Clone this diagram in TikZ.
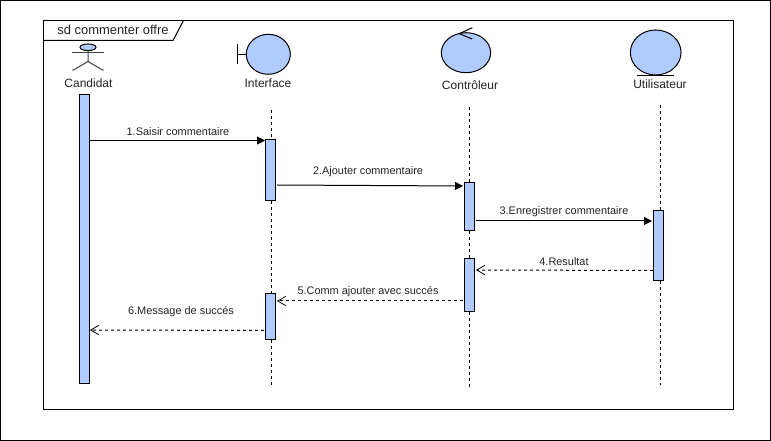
\documentclass[tikz,border=0pt]{standalone}
\usepackage{fontspec}
\setmainfont{Liberation Sans}
\usetikzlibrary{arrows.meta}
\usetikzlibrary{shapes.geometric}
\definecolor{myblue}{HTML}{B0CBFF}
\definecolor{mytext}{HTML}{222222}
\tikzset{
	rolebody/.style={ellipse,draw,fill=myblue,line width=0.75pt,inner sep=0pt},
	rolename/.style={inner sep=0pt,text=mytext,font=\fontsize{9}{10}\selectfont},
	msgtext/.style={inner sep=0pt,text=mytext,font=\fontsize{8.2}{9}\selectfont},
	activation/.style={rectangle,draw,fill=myblue,line width=0.75pt,inner sep=0pt,minimum width=7.5pt},
	lifeline/.style={line width=0.75pt,dash pattern=on 2.25pt off 2.25pt},
	callmsg/.style={line width=0.75pt,-{Triangle[length=6pt,width=6pt]}},
	replymsg/.style={line width=0.75pt,dash pattern=on 2.25pt off 2.25pt,-{Straight Barb[length=6pt,width=7pt,line width=0.6pt]}}
}

\begin{document}
\begin{tikzpicture}[x=0.75pt,y=-0.75pt]
	\useasboundingbox (0,0) rectangle (771,441);
	\draw [line width=0.75pt] (0.7,0.7) rectangle (770.3,440.3);
	% frame
	\draw [line width=0.75pt] (43.5,20.5) rectangle (733,410);
	\draw [line width=0.75pt] (43.5,40.5) -- (173,40.5) -- (183.5,20.5);
	\node [inner sep=0pt,text=mytext,font=\fontsize{9.7}{11}\selectfont] (frametitle) at (113,30) {sd commenter offre};

	% candidat
	\node [rolebody,minimum width=12pt,minimum height=5pt] (candidathead) at (88,47.3) {};
	\coordinate (candidatneck) at (88,50.7);
	\coordinate (candidathip) at (88,61.5);
	\coordinate (candidatarml) at (72,52.5);
	\coordinate (candidatarmr) at (104,52.5);
	\coordinate (candidatlegl) at (72.5,70.5);
	\coordinate (candidatlegr) at (103.5,70.5);
	\draw [line width=0.75pt,draw=black!75] (candidatneck) -- (candidathip) -- (candidatlegl);
	\draw [line width=0.75pt,draw=black!75] (candidathip) -- (candidatlegr);
	\draw [line width=0.75pt,draw=black!75] (candidatarml) -- (candidatarmr);
	\node [rolename] (candidatname) at (88.5,83.5) {Candidat};

	% interface
	\node [rolebody,minimum width=33pt,minimum height=30pt] (interfacebody) at (268.3,54.3) {};
	\coordinate (interfacebar) at (237.5,54.3);
	\coordinate (interfacebart) at (237.5,44);
	\coordinate (interfacebarb) at (237.5,64);
	\draw [line width=0.75pt] (interfacebart) -- (interfacebarb);
	\draw [line width=0.75pt] (interfacebar) -- (interfacebody.west);
	\node [rolename] (interfacename) at (268,83.5) {Interface};

	% controleur
	\node [rolebody,minimum width=37pt,minimum height=30pt] (controleurbody) at (466,52.7) {};
	\coordinate (controleurtip) at (459.3,33.7);
	\coordinate (controleurtipa) at (472.3,27.7);
	\coordinate (controleurtipb) at (472.3,39);
	\draw [line width=0.75pt] (controleurtipa) -- (controleurtip) -- (controleurtipb);
	\node [rolename] (controleurname) at (470,84.7) {Contrôleur};

	% utilisateur
	\node [rolebody,minimum width=38pt,minimum height=33.75pt] (utilisateurbody) at (655.7,52.5) {};
	\coordinate (utilisateurbasel) at (636.7,75.3);
	\coordinate (utilisateurbaser) at (674.3,75.3);
	\draw [line width=0.75pt] (utilisateurbasel) -- (utilisateurbaser);
	\node [rolename] (utilisateurname) at (660,84) {Utilisateur};

	% activations
	\node [activation,minimum height=217pt] (candidatbar) at (84.5,239.3) {};
	\node [activation,minimum height=46pt] (interfaceone) at (270.5,170.2) {};
	\node [activation,minimum height=34.5pt] (interfacetwo) at (270.5,316.5) {};
	\node [activation,minimum height=36pt] (controleurone) at (469.8,206.5) {};
	\node [activation,minimum height=39.5pt] (controleurtwo) at (469.8,284.8) {};
	\node [activation,minimum height=52.5pt] (utilisateurone) at (658.5,245.3) {};

	% lifelines
	\coordinate (interfacetop) at (271.5,110);
	\coordinate (interfaceend) at (271.5,387);
	\coordinate (controleurtop) at (469.5,107);
	\coordinate (controleurend) at (469.5,387);
	\coordinate (utilisateurtop) at (660,105);
	\coordinate (utilisateurend) at (660,385);
	\draw [lifeline] (interfacetop) -- (interfacetop |- interfaceone.north);
	\draw [lifeline] (interfacetop |- interfaceone.south) -- (interfacetop |- interfacetwo.north);
	\draw [lifeline] (interfacetop |- interfacetwo.south) -- (interfaceend);
	\draw [lifeline] (controleurtop) -- (controleurtop |- controleurone.north);
	\draw [lifeline] (controleurtop |- controleurone.south) -- (controleurtop |- controleurtwo.north);
	\draw [lifeline] (controleurtop |- controleurtwo.south) -- (controleurend);
	\draw [lifeline] (utilisateurtop) -- (utilisateurtop |- utilisateurone.north);
	\draw [lifeline] (utilisateurtop |- utilisateurone.south) -- (utilisateurend);

	% messages
	\coordinate (msgonefrom) at (90,140.5);
	\coordinate (msgoneto) at (265,140.5);
	\coordinate (msgtwofrom) at (277,185);
	\coordinate (msgtwoto) at (463,186);
	\coordinate (msgthreefrom) at (476,221);
	\coordinate (msgthreeto) at (652,221);
	\coordinate (msgfourfrom) at (653,270.5);
	\coordinate (msgfourto) at (476,270);
	\coordinate (msgfivefrom) at (463,301);
	\coordinate (msgfiveto) at (277,301);
	\coordinate (msgsixfrom) at (264,330.5);
	\coordinate (msgsixto) at (90,330);
	\draw [callmsg] (msgonefrom) -- (msgoneto);
	\draw [callmsg] (msgtwofrom) -- (msgtwoto);
	\draw [callmsg] (msgthreefrom) -- (msgthreeto);
	\draw [replymsg] (msgfourfrom) -- (msgfourto);
	\draw [replymsg] (msgfivefrom) -- (msgfiveto);
	\draw [replymsg] (msgsixfrom) -- (msgsixto);
	\node [msgtext] (msgonetext) at (178,131.5) {1.Saisir commentaire};
	\node [msgtext] (msgtwotext) at (368,172) {2.Ajouter commentaire};
	\node [msgtext] (msgthreetext) at (564,212) {3.Enregistrer commentaire};
	\node [msgtext] (msgfourtext) at (564,262) {4.Resultat};
	\node [msgtext] (msgfivetext) at (368,292) {5.Comm ajouter avec succés};
	\node [msgtext] (msgsixtext) at (181,312) {6.Message de succés};
\end{tikzpicture}
\end{document}
